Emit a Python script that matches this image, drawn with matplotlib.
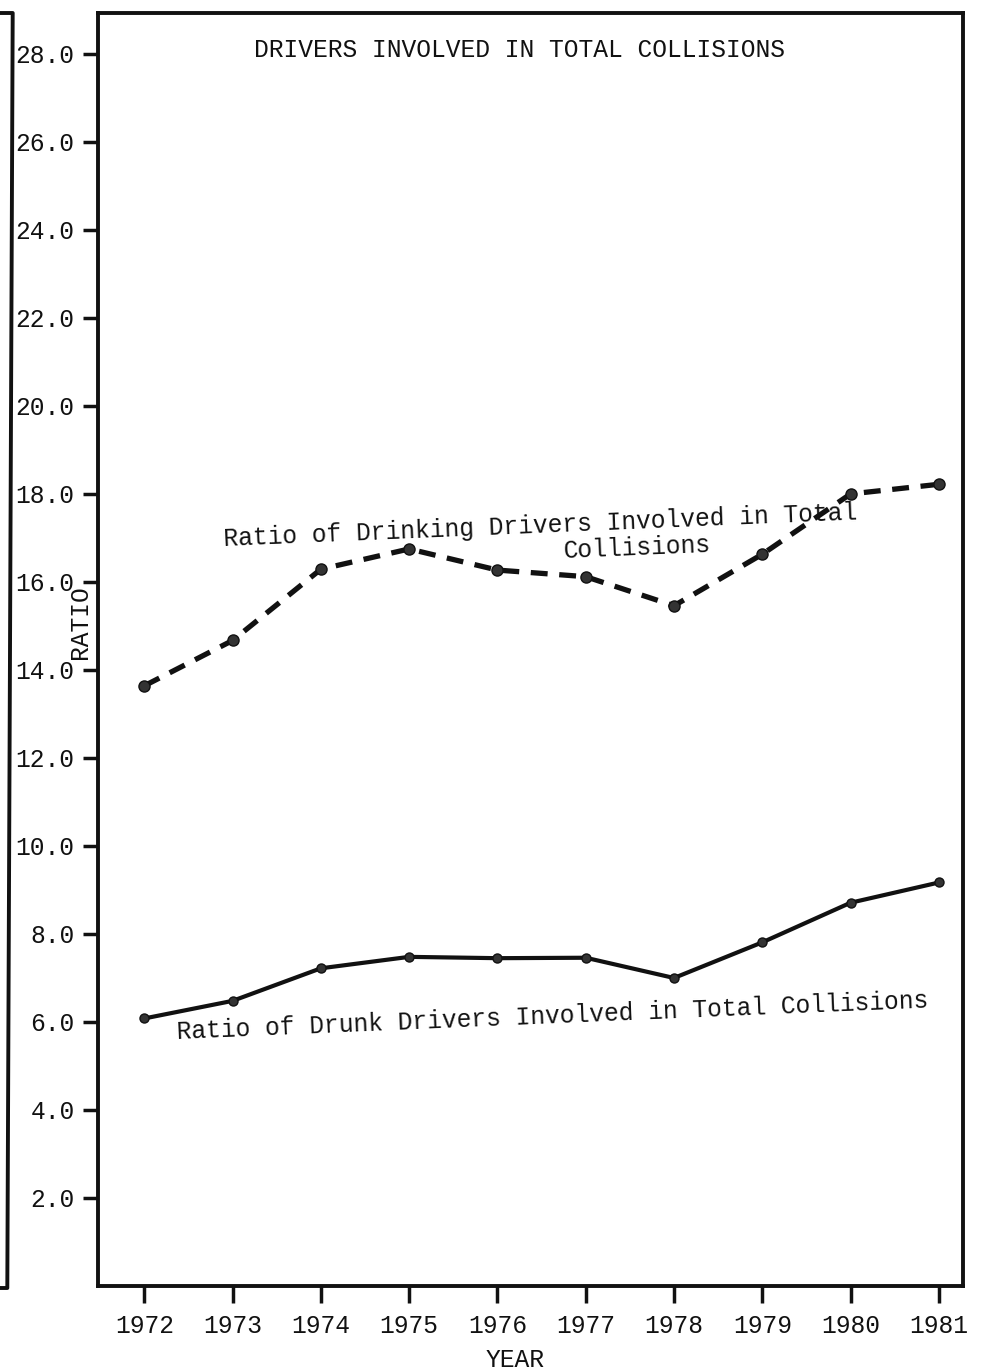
import matplotlib
matplotlib.use("Agg")
import matplotlib.pyplot as plt
from matplotlib.lines import Line2D

plt.rcParams['font.family'] = ['Liberation Mono', 'DejaVu Sans Mono']

years = [1972, 1973, 1974, 1975, 1976, 1977, 1978, 1979, 1980, 1981]
drinking = [13.64, 14.67, 16.29, 16.75, 16.27, 16.12, 15.46, 16.63, 18.0, 18.22]
drunk = [6.08, 6.48, 7.22, 7.48, 7.45, 7.46, 7.00, 7.81, 8.71, 9.17]
yticks = [2.0, 4.0, 6.0, 8.0, 10.0, 12.0, 14.0, 16.0, 18.0, 20.0, 22.0, 24.0, 26.0, 28.0]
ytick_labels = ["%.1f" % v for v in yticks]
xtick_labels = [str(y) for y in years]

title = "DRIVERS INVOLVED IN TOTAL COLLISIONS"
label_drinking_1 = "Ratio of Drinking Drivers Involved in Total"
label_drinking_2 = "Collisions"
label_drunk = "Ratio of Drunk Drivers Involved in Total Collisions"

W, H = 990, 1372
fig = plt.figure(figsize=(W / 100, H / 100), dpi=100)
fig.patch.set_facecolor('white')

def fx(px):
    return px / W

def fy(py):
    return 1 - py / H

ax = fig.add_axes([fx(98.3), fy(1286), fx(962.7) - fx(98.3), fy(13) - fy(1286)])

FS = 17.7
ink = '#111111'

ax.plot(years, drinking, color=ink, lw=3.8, ls=(0, (3.2, 2.2)),
        dash_capstyle='butt', marker='o', markersize=8,
        markerfacecolor='#333333', markeredgecolor=ink, zorder=3)
ax.plot(years, drunk, color=ink, lw=3.0, ls='-', marker='o', markersize=6.5,
        markerfacecolor='#333333', markeredgecolor=ink, zorder=3)

ax.set_xlim(1971.479, 1981.27)
ax.set_ylim(0, 28.93)

ax.set_xticks(years)
ax.set_xticklabels(xtick_labels, fontsize=FS, color=ink)
ax.set_yticks(yticks)
ax.set_yticklabels(ytick_labels, fontsize=FS, color=ink)

ax.tick_params(axis='y', direction='out', length=11, width=2.5, pad=6, colors=ink)
ax.tick_params(axis='x', direction='out', length=12, width=2.5, pad=8, colors=ink)

for s in ax.spines.values():
    s.set_linewidth(2.8)
    s.set_color(ink)

# texts
fig.text(fx(520), fy(50), title, fontsize=FS, ha='center', va='center', color=ink)
fig.text(fx(540), fy(526), label_drinking_1, fontsize=FS, ha='center', va='center',
         rotation=2.4, rotation_mode='anchor', color=ink)
fig.text(fx(637), fy(548), label_drinking_2, fontsize=FS, ha='center', va='center',
         rotation=2.4, rotation_mode='anchor', color=ink)
fig.text(fx(553), fy(1016), label_drunk, fontsize=FS, ha='center', va='center',
         rotation=2.4, rotation_mode='anchor', color=ink)
fig.text(fx(80), fy(622), "RATIO", fontsize=FS, ha='center', va='center',
         rotation=90, color=ink)
fig.text(fx(515), fy(1360), "YEAR", fontsize=FS, ha='center', va='center', color=ink)

# neighbouring frame edge from the scan
fig.add_artist(Line2D([fx(0), fx(12.7), fx(7.3), fx(0)],
                      [fy(13), fy(13), fy(1288), fy(1288)],
                      color=ink, lw=2.8, transform=fig.transFigure))

fig.savefig("out.png", dpi=100, facecolor='white')
